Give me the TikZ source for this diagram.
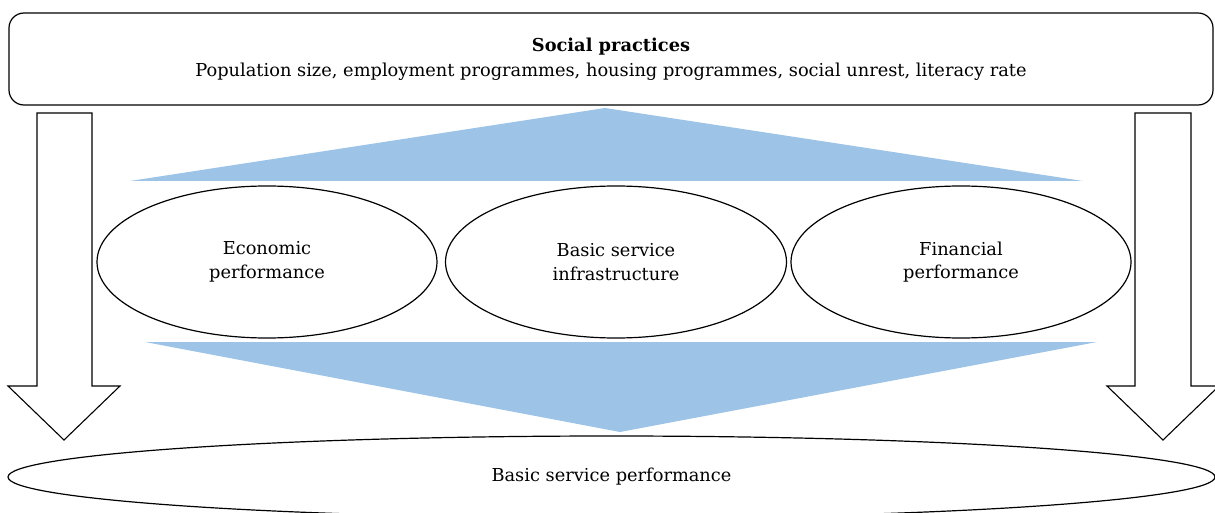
\documentclass[tikz,border=0pt]{standalone}
\usepackage{fontspec}
\setmainfont{DejaVu Serif}
\usetikzlibrary{shapes.geometric}
\definecolor{wedgeblue}{RGB}{157,195,230}
\begin{document}
\begin{tikzpicture}[x=1pt,y=-1pt,
  txt/.style={font=\fontsize{17.8}{23.5}\selectfont, align=center},
  topbox/.style={draw=black, line width=1.2pt, rounded corners=15pt, inner sep=0pt},
  oval/.style={ellipse, draw=black, line width=1.2pt, fill=white, inner sep=0pt},
  wedge/.style={fill=wedgeblue, draw=none},
  hollowarrow/.style={draw=black, line width=1.1pt, fill=white, line join=miter}]
\useasboundingbox (0,0) rectangle (1215,513);

% header box
\node[topbox, txt, minimum width=1204pt, minimum height=92pt] (social) at (611,59)
  {\textbf{Social practices}\\[2pt]Population size, employment programmes, housing programmes, social unrest, literacy rate};

% hollow side arrows
\draw[hollowarrow] (37,113) -- (92,113) -- (92,386) -- (120,386) -- (64,440) -- (8,386) -- (37,386) -- cycle;
\draw[hollowarrow] (1135,113) -- (1191,113) -- (1191,386) -- (1219,386) -- (1163,440) -- (1107,386) -- (1135,386) -- cycle;

% blue wedges
\fill[wedge] (130,181) -- (605,108) -- (1083,181) -- cycle;
\fill[wedge] (145,342) -- (1097,342) -- (620,432) -- cycle;

% performance ovals
\node[oval, txt, minimum width=340pt, minimum height=152pt] (econ) at (267,262) {Economic\\performance};
\node[oval, txt, minimum width=341pt, minimum height=152pt] (infra) at (616,262) {Basic service\\infrastructure};
\node[oval, txt, minimum width=340pt, minimum height=152pt] (fin) at (961,262) {Financial\\performance};

% outcome oval
\node[oval, txt, minimum width=1207pt, minimum height=82pt] (outcome) at (611.5,477) {Basic service performance};
\end{tikzpicture}
\end{document}
